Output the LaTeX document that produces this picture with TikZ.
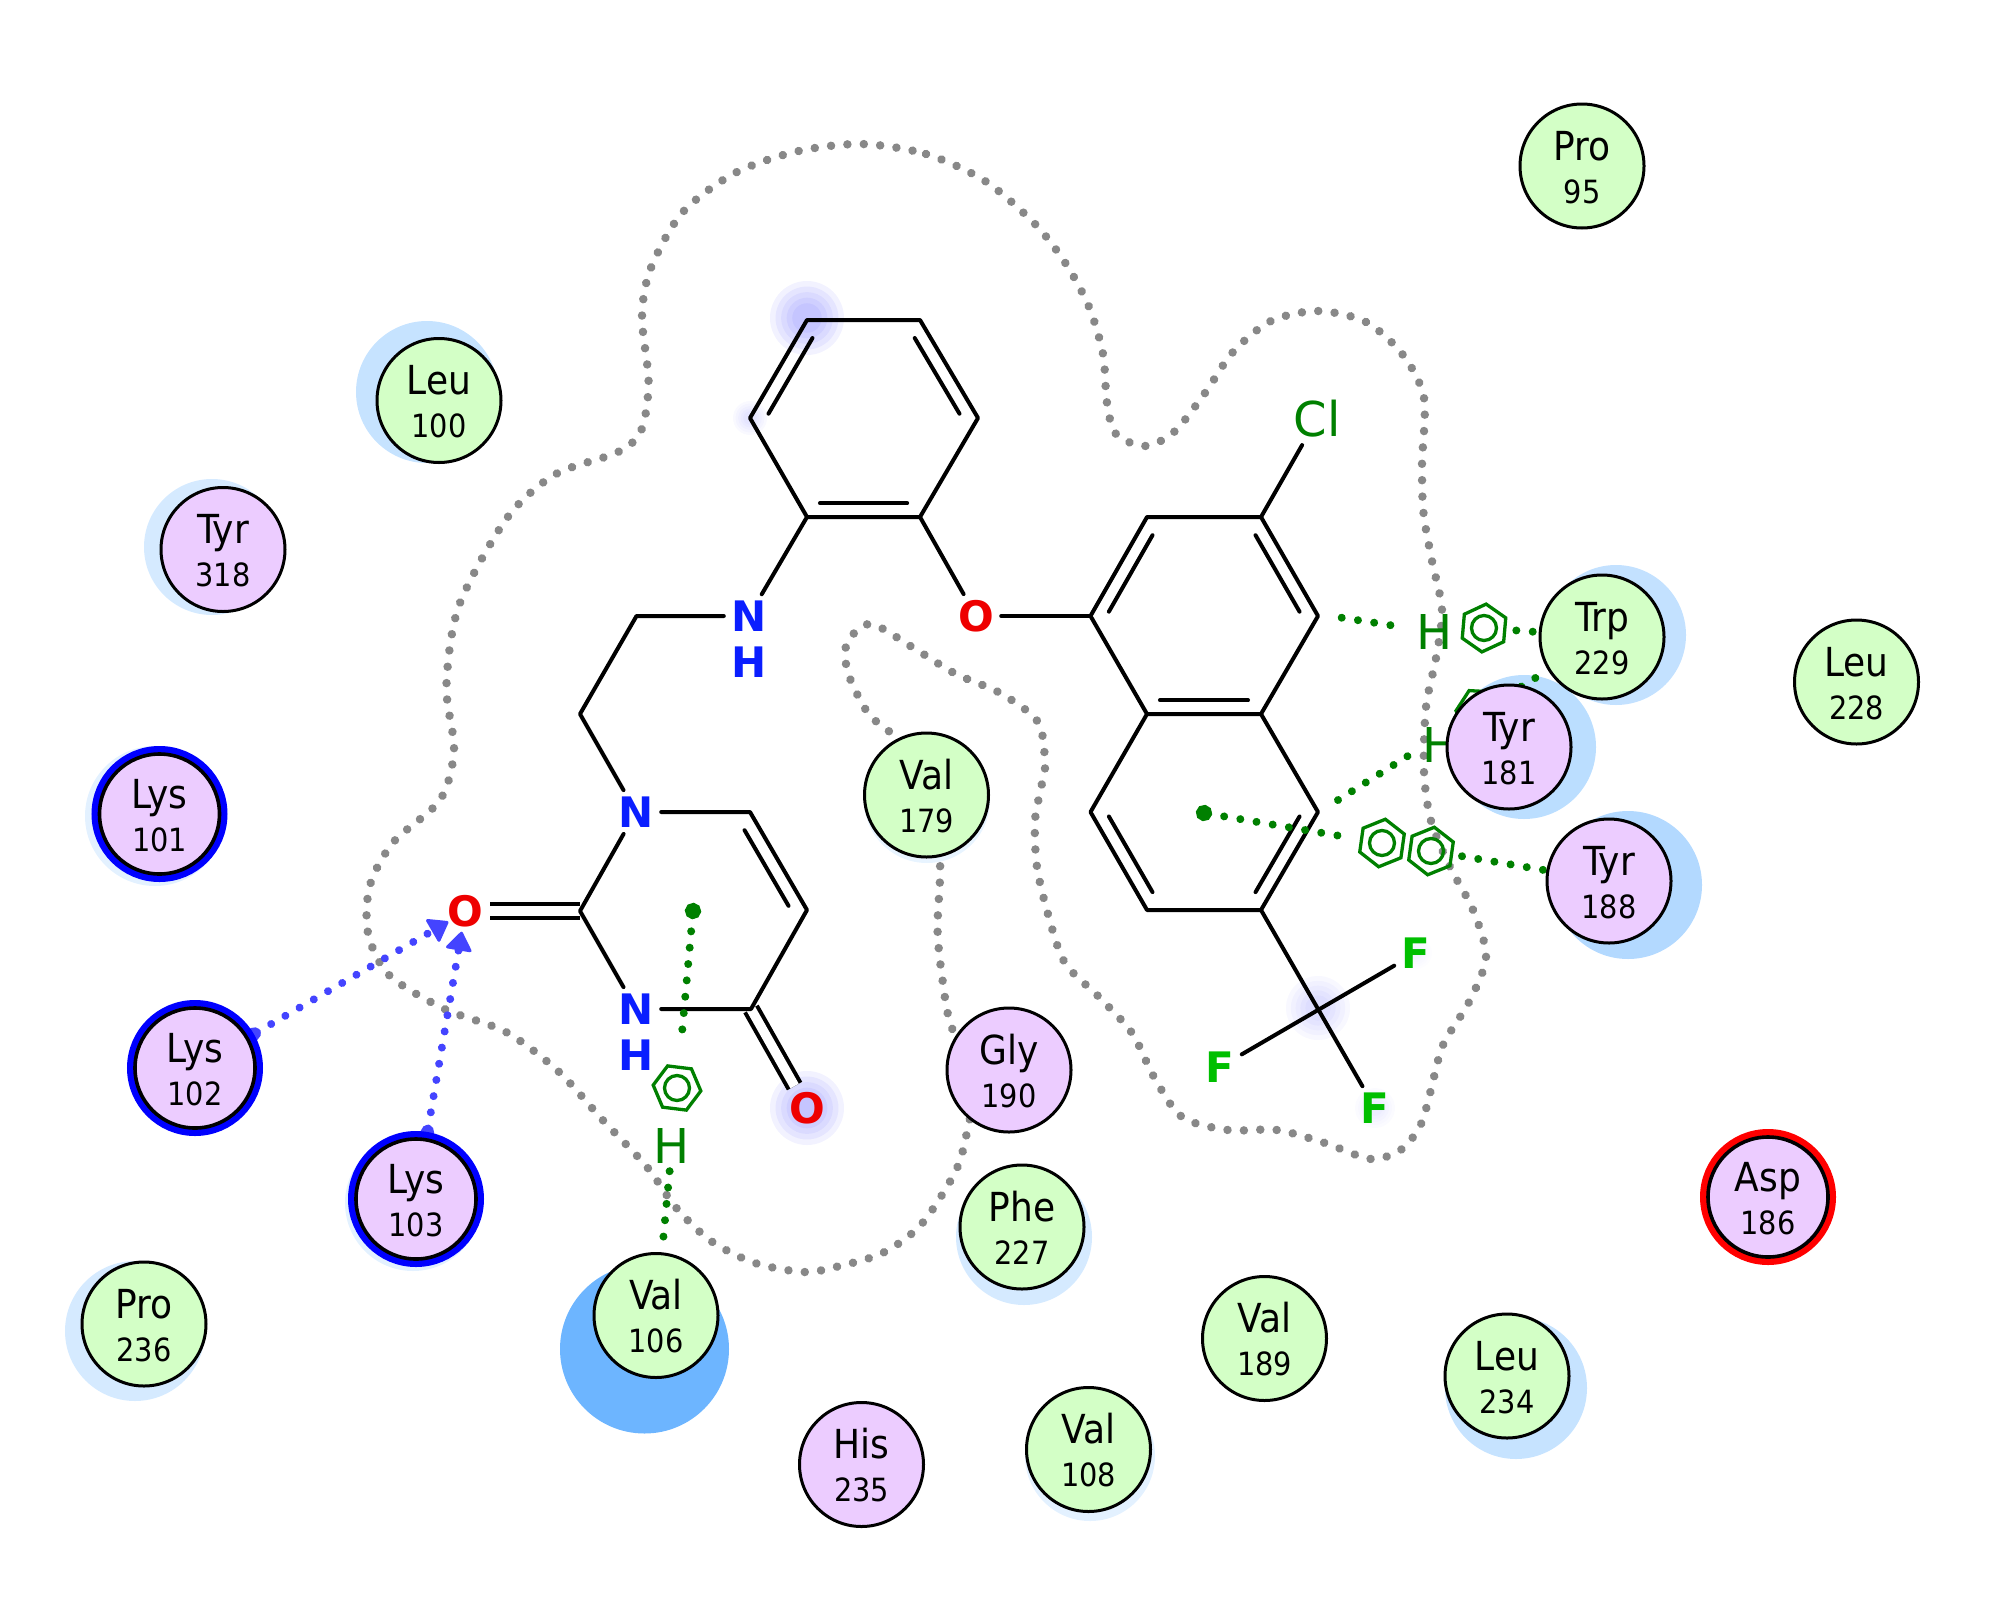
\documentclass[tikz,border=0pt]{standalone}
\usepackage{fontspec}
\setmainfont{DejaVu Sans}
\newfontfamily\resfont{DejaVu Sans Condensed}
\usetikzlibrary{arrows.meta,calc,backgrounds}
\usetikzlibrary{shapes.geometric}

\definecolor{resgreen}{HTML}{D3FFC6}
\definecolor{respurple}{HTML}{ECCCFF}
\definecolor{hbondblue}{HTML}{4444FF}
\definecolor{pidark}{HTML}{008000}
\definecolor{contgray}{HTML}{888888}
\definecolor{atomO}{HTML}{EE0000}
\definecolor{atomN}{HTML}{0A1EFF}
\definecolor{atomF}{HTML}{00BF00}

% exposure spot on an atom
\newcommand{\atomglow}[4]{
    \foreach \f in {1,.85,.7,.55,.4}
        \fill[blue!70!white, opacity=#4] (#1,#2) circle ({#3*\f});
}
% residue: name over number
\newcommand{\reslabel}[2]{\rule{0pt}{32pt}#1\\{\fontsize{32}{42.6}\selectfont #2}}
% second line of a double bond, inside its ring
\newcommand{\innerbond}[3]{
    \draw [bond, shorten <=5pt, shorten >=5pt] ($(#1)!.14!(#3)$) -- ($(#2)!.14!(#3)$);
}
% aromatic ring of a pi contact
\newcommand{\aromring}[4]{
    \node [arom, shape border rotate=#4] (#1) at (#2,#3) {};
    \draw [aromline] (#1.center) circle (12.5);
}

\begin{document}
\begin{tikzpicture}[x=1pt, y=-1pt]
% Define styles
\tikzstyle{res} = [circle, draw, line width=3pt, minimum size=124pt, inner sep=0pt, align=center,
    font=\resfont\fontsize{40}{42.6}\selectfont]
\tikzstyle{resG} = [res, fill=resgreen]
\tikzstyle{resP} = [res, fill=respurple]
\tikzstyle{resBlue} = [resP, line width=3.6pt, minimum size=120pt, preaction={draw=blue, line width=16pt}]
\tikzstyle{resRed} = [resP, line width=3.6pt, minimum size=120pt, preaction={draw=red, line width=16pt}]
\tikzstyle{atom} = [circle, inner sep=0pt, minimum size=50pt, font=\bfseries\fontsize{42}{42}\selectfont]
\tikzstyle{atomH} = [circle, inner sep=0pt, minimum size=50pt, text=pidark, font=\fontsize{48}{48}\selectfont]
\tikzstyle{bond} = [draw, line width=4pt, line cap=round, line join=round]
\tikzstyle{dblbond} = [draw, line width=4pt, double, double distance=9.5pt]
\tikzstyle{arom} = [regular polygon, regular polygon sides=6, draw=pidark, line width=3.3pt,
    minimum size=48pt, inner sep=0pt]
\tikzstyle{aromline} = [draw=pidark, line width=3.3pt]
\tikzstyle{dots} = [line width=8pt, line cap=round, dash pattern=on 0.01pt off 16.4pt]
\tikzstyle{pidots} = [dots, draw=pidark]
\tikzstyle{hbond} = [dots, draw=hbondblue,
    {Circle[length=13pt]}-{Triangle[length=20pt, width=28pt, round, line width=3pt]}]
\tikzstyle{contour} = [dots, draw=contgray, line width=8.5pt]

\useasboundingbox (0,0) rectangle (2000,1609);

    % Place atoms
    \coordinate (ph1) at (807,320);
    \coordinate (ph2) at (920,320);
    \coordinate (ph3) at (978,418);
    \coordinate (ph4) at (920,517);
    \coordinate (ph5) at (807,517);
    \coordinate (ph6) at (750,418);
    \coordinate (phc) at (864,418);
    \node [atom, text=atomN] (namine) at (749,616) {N};
    \node [atom, text=atomN] at (749,662) {H};
    \node [atom, text=atomO] (oether) at (976,616) {O};
    \coordinate (ch1) at (636.5,616);
    \coordinate (ch2) at (580,714);
    \node [atom, text=atomN] (n1) at (636,812) {N};
    \coordinate (c2) at (580,911);
    \node [atom, text=atomN] (n3) at (636,1009) {N};
    \node [atom, text=atomN] at (636,1055) {H};
    \coordinate (c4) at (751,1009);
    \coordinate (c5) at (807,910);
    \coordinate (c6) at (750,812);
    \coordinate (pyc) at (693,911);
    \node [atom, text=atomO] (o2) at (465,911) {O};
    \node [atom, text=atomO] (o4) at (807,1108) {O};
    \coordinate (na1) at (1147,517);
    \coordinate (na2) at (1261,517);
    \coordinate (na3) at (1318,616);
    \coordinate (na4) at (1261,714);
    \coordinate (na5) at (1147,714);
    \coordinate (na6) at (1090.5,616);
    \coordinate (na7) at (1318,812);
    \coordinate (na8) at (1261,910);
    \coordinate (na9) at (1147,910);
    \coordinate (na10) at (1090.5,812);
    \coordinate (nac) at (1204,616);
    \coordinate (nbc) at (1204,813);
    \coordinate (cf) at (1318,1008);
    \node [atom, font=\fontsize{48}{48}\selectfont, text=pidark] (cl) at (1317,419) {Cl};
    \node [atom, text=atomF] (f1) at (1416,953) {F};
    \node [atom, text=atomF] (f2) at (1220,1067) {F};
    \node [atom, text=atomF] (f3) at (1375,1108) {F};

    % Place pi contact marks
    \node [atomH] (htrp) at (1435,632) {H};
    \node [atomH] (htyr) at (1441,745) {H};
    \node [atomH] (hval) at (672,1146) {H};
    \aromring{ringtrp}{1484}{628}{25}
    \aromring{ringtyr}{1480}{712}{-3}
    \aromring{ringa}{1382}{843}{22}
    \aromring{ringb}{1431}{851}{22}
    \aromring{ringval}{677}{1088}{-7}

    % Place residues
    \node [resG] (pro95) at (1582,166) {\reslabel{Pro}{95}};
    \node [resG] (leu228) at (1856.5,682) {\reslabel{Leu}{228}};
    \node [resG] (trp229) at (1602,637) {\reslabel{Trp}{229}};
    \node [resP] (tyr181) at (1509,747) {\reslabel{Tyr}{181}};
    \node [resP] (tyr188) at (1609,881) {\reslabel{Tyr}{188}};
    \node [resG] (leu100) at (439,400.5) {\reslabel{Leu}{100}};
    \node [resP] (tyr318) at (223,549.5) {\reslabel{Tyr}{318}};
    \node [resBlue] (lys101) at (159.5,814) {\reslabel{Lys}{101}};
    \node [resBlue] (lys102) at (195,1068) {\reslabel{Lys}{102}};
    \node [resBlue] (lys103) at (416,1199) {\reslabel{Lys}{103}};
    \node [resG] (pro236) at (144,1324) {\reslabel{Pro}{236}};
    \node [resG] (val106) at (656,1315.5) {\reslabel{Val}{106}};
    \node [resP] (his235) at (861.5,1464.5) {\reslabel{His}{235}};
    \node [resG] (val179) at (926.5,795) {\reslabel{Val}{179}};
    \node [resP] (gly190) at (1009,1070) {\reslabel{Gly}{190}};
    \node [resG] (phe227) at (1022,1227) {\reslabel{Phe}{227}};
    \node [resG] (val189) at (1264.5,1338.5) {\reslabel{Val}{189}};
    \node [resG] (val108) at (1088.5,1449.5) {\reslabel{Val}{108}};
    \node [resG] (leu234) at (1507,1376) {\reslabel{Leu}{234}};
    \node [resRed] (asp186) at (1768,1197) {\reslabel{Asp}{186}};

\begin{pgfonlayer}{background}
    % Solvent halos
    \fill [color={rgb,255:red,195;green,225;blue,255}] (1616,635) circle (70);
    \fill [color={rgb,255:red,187;green,222;blue,255}] (1524,747) circle (72);
    \fill [color={rgb,255:red,179;green,217;blue,255}] (1628,885) circle (74);
    \fill [color={rgb,255:red,198;green,227;blue,255}] (427,392) circle (71);
    \fill [color={rgb,255:red,213;green,234;blue,255}] (212,547) circle (68);
    \fill [color={rgb,255:red,227;green,241;blue,255}] (155,816) circle (70);
    \fill [color={rgb,255:red,227;green,241;blue,255}] (413,1203) circle (68);
    \fill [color={rgb,255:red,213;green,234;blue,255}] (135,1331) circle (70);
    \fill [color={rgb,255:red,109;green,181;blue,255}] (644.5,1349) circle (84.5);
    \fill [color={rgb,255:red,232;green,244;blue,255}] (927,800) circle (63);
    \fill [color={rgb,255:red,213;green,234;blue,255}] (1024,1237) circle (68);
    \fill [color={rgb,255:red,227;green,241;blue,255}] (1090,1456) circle (65);
    \fill [color={rgb,255:red,198;green,227;blue,255}] (1516,1388) circle (71);
    \atomglow{807}{318}{37}{.075}
    \atomglow{750}{418}{17}{.03}
    \atomglow{807}{1108}{37}{.075}
    \atomglow{1318}{1008}{32}{.04}
    \atomglow{1375}{1108}{20}{.02}
    \atomglow{1416}{953}{16}{.01}

    % Pocket contour
    \draw [contour] plot [smooth cycle] coordinates {
        (861,144) (926,154) (985,181) (1035,224) (1066,264) (1089,307) (1103,354) (1107,403)
        (1116,434) (1145,446) (1174,432) (1205,393) (1233,352) (1271,321) (1318,311) (1366,322)
        (1403,355) (1424,398) (1422,464) (1423.5,513) (1432,561) (1442,610) (1436,658) (1426,707)
        (1424,772) (1431,821) (1450,867) (1473,910) (1486,957) (1469,1002) (1443,1045) (1430.5,1091.5)
        (1421,1124) (1402,1149) (1371,1159) (1325,1143) (1277,1130) (1228,1130) (1182,1117) (1154,1077)
        (1132,1033) (1099,997) (1065,963) (1048.5,916) (1037,867) (1035,821) (1041,788) (1045,765)
        (1038,722) (1000,693) (955,673.5) (912,647) (870.5,624) (847,643) (848,673) (868.6,714)
        (896,739) (930,800) (940,863) (937.5,929) (942.6,980.6) (951.5,1027) (978,1075) (969,1122.5)
        (956.6,1169) (921.6,1224) (882.6,1253) (835.5,1267) (803.6,1272) (755,1263) (711,1241) (676,1207.6)
        (647,1167) (602.7,1120) (558,1071) (506,1032) (444.5,1009) (389,975) (368,933) (370,885)
        (393.5,842) (440,800) (454,750) (446.4,686) (459,605.6) (507,518) (555,474.5) (617,452.5)
        (641,431) (648.6,382.6) (642,317) (650.5,269) (682,213) (734,173.5) (796.5,151.5)};

    % Draw bonds
    \draw [dblbond] (o2) -- (c2);
    \draw [dblbond] (o4) -- (c4);
    \path [bond] (ph1) -- (ph2) -- (ph3) -- (ph4) -- (ph5) -- (ph6) -- cycle;
    \innerbond{ph1}{ph6}{phc}
    \innerbond{ph2}{ph3}{phc}
    \innerbond{ph4}{ph5}{phc}
    \path [bond] (ph5) -- (namine);
    \path [bond] (ph4) -- (oether);
    \path [bond] (namine) -- (ch1) -- (ch2) -- (n1);
    \path [bond] (n1) -- (c6) -- (c5) -- (c4) -- (n3);
    \path [bond] (n1) -- (c2) -- (n3);
    \innerbond{c6}{c5}{pyc}
    \path [bond] (oether) -- (na6);
    \path [bond] (na1) -- (na2) -- (na3) -- (na4) -- (na5) -- (na6) -- cycle;
    \path [bond] (na4) -- (na7) -- (na8) -- (na9) -- (na10) -- (na5);
    \innerbond{na1}{na6}{nac}
    \innerbond{na2}{na3}{nac}
    \innerbond{na4}{na5}{nac}
    \innerbond{na7}{na8}{nbc}
    \innerbond{na9}{na10}{nbc}
    \path [bond] (na2) -- (cl);
    \path [bond] (na8) -- (f3);
    \path [bond] (f1) -- (f2);

    % Draw contacts
    \coordinate (o2tip) at (448.3,921.7);
    \coordinate (o2tipb) at (461.7,931.7);
    \draw [hbond] (lys102) -- (o2tip);
    \draw [hbond] (lys103) -- (o2tipb);
    \coordinate (na3h) at (1341.7,617.7);
    \coordinate (na3hb) at (1338,800);
    \coordinate (htyrend) at (1411,754);
    \draw [pidots, shorten >=8pt] (na3h) -- (htrp);
    \draw [pidots, shorten <=10pt] (ringtrp) -- (trp229);
    \draw [pidots] (na3hb) -- (htyrend);
    \draw [pidots, shorten <=26pt] (ringtyr) -- (trp229);
    \draw [pidots, shorten >=22pt, shorten <=-8pt, {Circle[length=16pt]}-] (nbc) -- (ringa);
    \draw [pidots, shorten <=9pt] (ringb) -- (tyr188);
    \draw [pidots, shorten >=20pt, shorten <=-8pt, {Circle[length=16pt]}-] (pyc) -- (ringval);
    \draw [pidots] (hval) -- (val106);
\end{pgfonlayer}
\end{tikzpicture}
\end{document}
